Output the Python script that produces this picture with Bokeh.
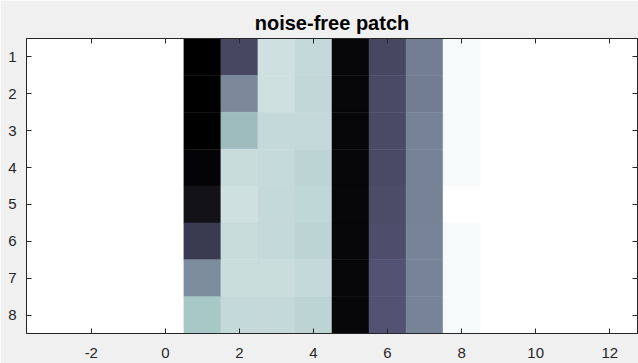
import numpy as np
from bokeh.plotting import figure
from bokeh.models import (ColumnDataSource, Range1d, LinearAxis, FixedTicker,
                          LinearColorMapper)
from bokeh.embed import file_html
from bokeh.resources import INLINE

# ---- data -------------------------------------------------------------
title_text = "noise-free patch"
row_ids = [1, 2, 3, 4, 5, 6, 7, 8]
col_ids = [1, 2, 3, 4, 5, 6, 7, 8]
col1 = [0.0, 0.0, 0.0, 0.02, 0.08, 0.26, 0.56, 0.75]
col2 = [0.32, 0.55, 0.71, 0.84, 0.86, 0.84, 0.845, 0.83]
col3 = [0.86, 0.86, 0.83, 0.835, 0.83, 0.83, 0.845, 0.83]
col4 = [0.83, 0.825, 0.83, 0.805, 0.82, 0.805, 0.83, 0.805]
col5 = [0.035, 0.035, 0.035, 0.035, 0.035, 0.035, 0.035, 0.035]
col6 = [0.32, 0.335, 0.335, 0.335, 0.34, 0.35, 0.37, 0.37]
col7 = [0.515, 0.51, 0.53, 0.53, 0.53, 0.535, 0.535, 0.535]
col8 = [0.975, 0.975, 0.975, 0.975, 1.0, 0.975, 0.975, 0.975]
x_ticks = [-2, 0, 2, 4, 6, 8, 10, 12]
y_ticks = [1, 2, 3, 4, 5, 6, 7, 8]

columns = [col1, col2, col3, col4, col5, col6, col7, col8]

# ---- MATLAB "bone" colormap --------------------------------------------
def bone(n=256):
    t = np.linspace(0, 1, n)
    hr = np.clip(t / 0.375, 0, 1)
    hg = np.clip((t - 0.375) / 0.375, 0, 1)
    hb = np.clip((t - 0.75) / 0.25, 0, 1)
    r = (7 * t + hb) / 8
    g = (7 * t + hg) / 8
    b = (7 * t + hr) / 8
    return ["#%02x%02x%02x" % (int(round(rr * 255)), int(round(gg * 255)), int(round(bb * 255)))
            for rr, gg, bb in zip(r, g, b)]

mapper = LinearColorMapper(palette=bone(256), low=0.0, high=1.0)

xs, ys, vs = [], [], []
for c, vals in zip(col_ids, columns):
    for r, v in zip(row_ids, vals):
        xs.append(c)
        ys.append(r)
        vs.append(v)
src = ColumnDataSource(dict(x=xs, y=ys, v=vs))

# ---- figure -------------------------------------------------------------
FONT = "Liberation Sans"
DARK = "#262626"

p = figure(frame_width=611, frame_height=295,
           x_range=Range1d(-3.75, 12.75), y_range=Range1d(8.5, 0.5),
           output_backend="svg", toolbar_location=None,
           min_border_left=26, min_border_right=1,
           min_border_top=38, min_border_bottom=30,
           border_fill_color="#f0f0f0", background_fill_color="white",
           outline_line_color=DARK, outline_line_width=1)

p.rect(x="x", y="y", width=1, height=1, source=src,
       fill_color={"field": "v", "transform": mapper},
       line_color={"field": "v", "transform": mapper}, line_width=0.5)

p.grid.visible = False

p.title.text = title_text
p.title.align = "center"
p.title.text_font = FONT
p.title.text_font_size = "20px"
p.title.text_font_style = "bold"
p.title.text_color = "#000000"

for ax in (p.xaxis[0], p.yaxis[0]):
    ax.major_tick_in = 5
    ax.major_tick_out = 0
    ax.minor_tick_line_color = None
    ax.axis_line_color = DARK
    ax.major_tick_line_color = DARK
    ax.major_label_text_font = FONT
    ax.major_label_text_font_size = "15px"
    ax.major_label_text_color = DARK

p.xaxis.ticker = FixedTicker(ticks=x_ticks)
p.yaxis.ticker = FixedTicker(ticks=y_ticks)
p.xaxis.major_label_overrides = {t: str(t) for t in x_ticks}
p.yaxis.major_label_overrides = {t: str(t) for t in y_ticks}
p.xaxis.major_label_standoff = 14
p.yaxis.major_label_standoff = 10

top = LinearAxis(ticker=FixedTicker(ticks=x_ticks))
right = LinearAxis(ticker=FixedTicker(ticks=y_ticks))
for ax in (top, right):
    ax.major_tick_in = 5
    ax.major_tick_out = 0
    ax.minor_tick_line_color = None
    ax.axis_line_color = DARK
    ax.major_tick_line_color = DARK
    ax.major_label_text_font_size = "0px"
    ax.major_label_standoff = 0
    ax.major_label_text_alpha = 0
p.add_layout(top, "above")
p.add_layout(right, "right")

open("out.html", "w").write(file_html(p, INLINE))
